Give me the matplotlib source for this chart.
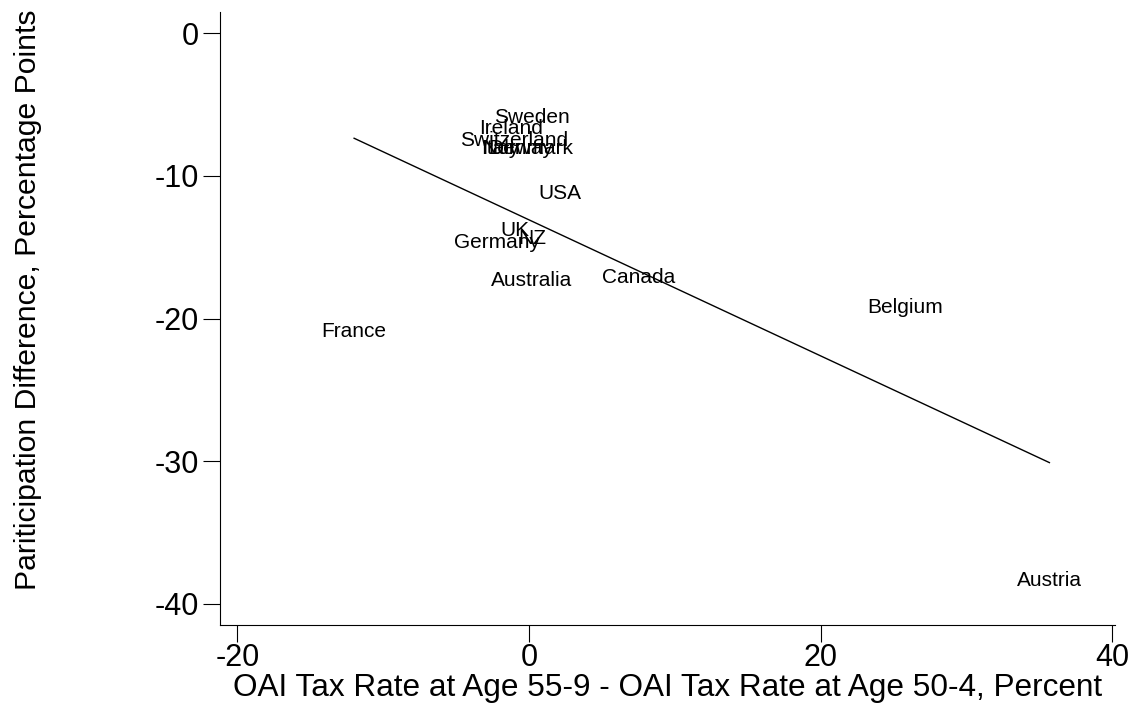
import numpy as np
import matplotlib.pyplot as plt

plt.rcParams['font.family'] = ['Liberation Sans', 'DejaVu Sans']
plt.rcParams['axes.unicode_minus'] = False

countries = ["Sweden", "Ireland", "Switzerland", "Italy", "Norway", "Denmark",
             "USA", "UK", "NZ", "Germany", "Australia", "Canada",
             "Belgium", "France", "Austria"]
tax_diff = [0.2, -1.2, -1.0, -2.0, -0.8, 0.1,
            2.1, -1.0, 0.2, -2.2, 0.2, 7.5,
            25.8, -12.0, 35.7]
part_diff = [-5.9, -6.7, -7.5, -8.1, -8.1, -8.1,
             -11.2, -13.8, -14.4, -14.7, -17.3, -17.1,
             -19.2, -20.9, -38.4]

# fitted regression line
fit_intercept = -13.08
fit_slope = -0.477

fig = plt.figure(figsize=(11.29, 7.07), dpi=100)
ax = fig.add_axes([220 / 1129, 82 / 707, 895 / 1129, 613 / 707])

for name, x, y in zip(countries, tax_diff, part_diff):
    ax.text(x, y, name, ha='center', va='center', fontsize=15)

xs = np.array([min(tax_diff), max(tax_diff)])
ax.plot(xs, fit_intercept + fit_slope * xs, color='black', lw=1)

ax.set_xlim(-21.2, 40.2)
ax.set_ylim(-41.5, 1.5)
ax.set_xticks([-20, 0, 20, 40])
ax.set_yticks([0, -10, -20, -30, -40])
ax.tick_params(direction='out', length=12, width=0.8, labelsize=22)
ax.tick_params(axis='x', pad=1)
ax.tick_params(axis='y', pad=3)
ax.spines['top'].set_visible(False)
ax.spines['right'].set_visible(False)
ax.set_xlabel("OAI Tax Rate at Age 55-9 - OAI Tax Rate at Age 50-4, Percent",
              fontsize=22.7, labelpad=0)
ax.set_ylabel("Pariticipation Difference, Percentage Points", fontsize=21.7)
ax.yaxis.set_label_coords(-0.199, 0.53)

fig.savefig("out.png", dpi=100)
